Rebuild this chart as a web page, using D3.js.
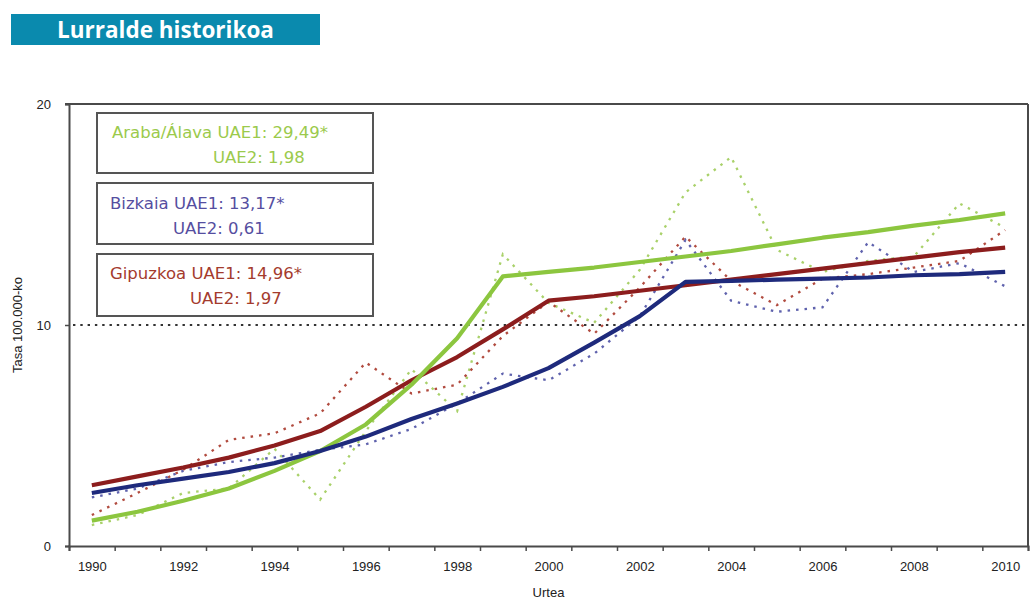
<!DOCTYPE html>
<html><head><meta charset="utf-8">
<script src="https://cdn.jsdelivr.net/npm/d3@7"></script>
<style>body{margin:0;background:#fff;} svg{display:block;}</style>
</head><body>
<svg id="c" width="1032" height="602"></svg>
<script>
const years = d3.range(1990, 2011);
const yearLabels = [1990,1992,1994,1996,1998,2000,2002,2004,2006,2008,2010];
const yTicks = [0, 10, 20];
const seriesNames = ["Araba/Álava", "Bizkaia", "Gipuzkoa"];
// trend (solid) values
const arabaTrend   = [1.15,1.55,2.05,2.6,3.4,4.3,5.5,7.3,9.4,12.2,12.4,12.6,12.85,13.1,13.35,13.65,13.95,14.2,14.5,14.75,15.05];
const bizkaiaTrend = [2.4,2.75,3.05,3.35,3.75,4.3,4.95,5.75,6.45,7.2,8.05,9.2,10.4,11.95,12.0,12.05,12.1,12.15,12.25,12.3,12.4];
const gipuzTrend   = [2.75,3.15,3.55,4.0,4.55,5.2,6.3,7.5,8.55,9.8,11.1,11.3,11.55,11.8,12.05,12.3,12.55,12.8,13.05,13.3,13.5];
// observed (dotted) values
const arabaObs   = [0.95,1.4,2.4,2.6,4.4,2.1,5.2,8.0,6.1,13.2,11.0,10.1,12.5,16.0,17.6,13.4,12.4,12.9,13.1,15.5,14.4];
const bizkaiaObs = [2.2,2.6,3.4,3.8,4.0,4.35,4.6,5.3,6.45,7.8,7.5,8.7,10.4,13.85,11.1,10.6,10.8,13.75,12.4,12.8,11.75];
const gipuzObs   = [1.4,2.4,3.45,4.8,5.1,6.0,8.3,6.9,7.3,9.5,11.05,9.6,11.7,14.0,12.0,10.9,12.1,12.3,12.6,12.9,14.3];
const legendLine1 = ["Araba/Álava UAE1: 29,49*", "Bizkaia UAE1: 13,17*", "Gipuzkoa UAE1: 14,96*"];
const legendLine2 = ["UAE2: 1,98", "UAE2: 0,61", "UAE2: 1,97"];
const refValue = 10;

const svg = d3.select("#c");
const L = 69, R = 1028, T = 104, B = 546;
const x = d3.scaleLinear().domain([1989.5, 2010.5]).range([L, R]);
const y = d3.scaleLinear().domain([0, 20]).range([B, T]);

// title
svg.append("rect").attr("x", 11).attr("y", 14).attr("width", 309).attr("height", 31).attr("fill", "#0a8aae");
svg.append("text").attr("x", 165.5).attr("y", 38).attr("text-anchor", "middle")
  .attr("fill", "#fff").attr("font-family", "Open Sans, sans-serif").attr("font-weight", 700)
  .attr("font-size", 22.5).text("Lurralde historikoa");

// reference dotted line at 10
svg.append("line").attr("x1", L + 4).attr("x2", R).attr("y1", y(refValue)).attr("y2", y(refValue))
  .attr("stroke", "#333").attr("stroke-width", 2.2).attr("stroke-dasharray", "2.4,4.9");

// frame
const axisCol = "#4a4a4a";
svg.append("line").attr("x1", L - 4).attr("x2", R).attr("y1", T).attr("y2", T).attr("stroke", axisCol).attr("stroke-width", 2);
svg.append("line").attr("x1", R).attr("x2", R).attr("y1", T).attr("y2", B).attr("stroke", axisCol).attr("stroke-width", 2);

// y axis
const yAxis = svg.append("g").attr("transform", `translate(${L},0)`)
  .call(d3.axisLeft(y).tickValues(yTicks).tickSize(4).tickPadding(14).tickFormat(d3.format("d")));
yAxis.select(".domain").attr("stroke", axisCol).attr("stroke-width", 2);
yAxis.selectAll(".tick line").attr("stroke", axisCol).attr("stroke-width", 1.5);
yAxis.selectAll("text").attr("font-family", "Liberation Sans, Arial, sans-serif").attr("font-size", 13).attr("fill", "#222");

// x axis ticks (between categories)
const xTickVals = d3.range(1989.5, 2011, 1);
const xAxis = svg.append("g").attr("transform", `translate(0,${B})`)
  .call(d3.axisBottom(x).tickValues(xTickVals).tickSize(5).tickFormat(""));
xAxis.select(".domain").attr("stroke", axisCol).attr("stroke-width", 2);
xAxis.selectAll(".tick line").attr("stroke", axisCol).attr("stroke-width", 1.5);
const xLab = svg.append("g").attr("transform", `translate(0,${B})`)
  .call(d3.axisBottom(x).tickValues(yearLabels).tickSize(0).tickPadding(16).tickFormat(d3.format("d")));
xLab.select(".domain").remove();
xLab.selectAll("text").attr("font-family", "Liberation Sans, Arial, sans-serif").attr("font-size", 13).attr("fill", "#222");

// axis titles
svg.append("text").attr("x", (L + R) / 2).attr("y", 597).attr("text-anchor", "middle")
  .attr("font-family", "Liberation Sans, Arial, sans-serif").attr("font-size", 13).attr("fill", "#222").text("Urtea");
svg.append("text").attr("transform", `translate(22,${y(10)}) rotate(-90)`).attr("text-anchor", "middle")
  .attr("font-family", "Liberation Sans, Arial, sans-serif").attr("font-size", 13).attr("fill", "#222").text("Tasa 100.000-ko");

const line = d3.line().x((d, i) => x(years[i])).y(d => y(d));
const obs = [arabaObs, bizkaiaObs, gipuzObs];
const trend = [arabaTrend, bizkaiaTrend, gipuzTrend];
const solidCols = ["#8cc63f", "#1e2a7c", "#8c1d1d"];
const dotCols = ["#a9d16a", "#5f62ad", "#b14b3f"];
const textCols = ["#9bca4c", "#554ea0", "#a43b2d"];

obs.forEach((s, k) => {
  svg.append("path").datum(s).attr("d", line).attr("fill", "none")
    .attr("stroke", dotCols[k]).attr("stroke-width", 2.3).attr("stroke-dasharray", "2.5,6");
});
[2, 0, 1].forEach(k => {
  svg.append("path").datum(trend[k]).attr("d", line).attr("fill", "none")
    .attr("stroke", solidCols[k]).attr("stroke-width", 4.2).attr("stroke-linejoin", "round");
});

// legend boxes
const boxes = [
  {y: 113, h: 60, x2: 213, b1: 138, b2: 163},
  {y: 183, h: 61, x2: 173, b1: 209, b2: 234},
  {y: 254, h: 62, x2: 190, b1: 279, b2: 304}
];
boxes.forEach((b, k) => {
  svg.append("rect").attr("x", 97).attr("y", b.y).attr("width", 276).attr("height", b.h)
    .attr("fill", "#fff").attr("stroke", "#555").attr("stroke-width", 2);
  svg.append("text").attr("x", k === 0 ? 112 : 110).attr("y", b.b1).attr("fill", textCols[k])
    .attr("font-family", "DejaVu Sans, sans-serif").attr("font-size", 16.5).text(legendLine1[k]);
  svg.append("text").attr("x", b.x2).attr("y", b.b2).attr("fill", textCols[k])
    .attr("font-family", "DejaVu Sans, sans-serif").attr("font-size", 16.5).text(legendLine2[k]);
});
</script>
</body></html>
